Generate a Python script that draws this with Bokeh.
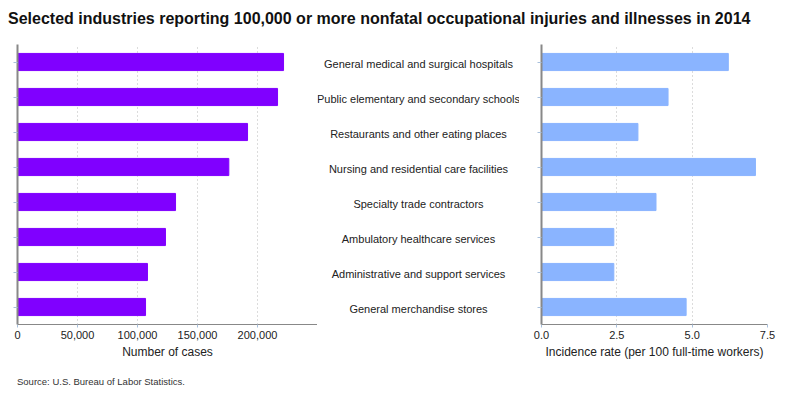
from bokeh.plotting import figure
from bokeh.layouts import column, row
from bokeh.models import (Div, FactorRange, Range1d, FixedTicker, NumeralTickFormatter,
                          ColumnDataSource)
from bokeh.core.properties import value
from bokeh.embed import file_html
from bokeh.resources import INLINE

industries = [
    "General medical and surgical hospitals",
    "Public elementary and secondary schools",
    "Restaurants and other eating places",
    "Nursing and residential care facilities",
    "Specialty trade contractors",
    "Ambulatory healthcare services",
    "Administrative and support services",
    "General merchandise stores",
]
cases = [221700, 216700, 191700, 176100, 131700, 123300, 108300, 106700]
rates = [6.2, 4.2, 3.2, 7.1, 3.8, 2.4, 2.4, 4.8]
cases_ticks = [0, 50000, 100000, 150000, 200000]
rate_ticks = [0.0, 2.5, 5.0, 7.5]

title_text = "Selected industries reporting 100,000 or more nonfatal occupational injuries and illnesses in 2014"
source_text = "Source: U.S. Bureau of Labor Statistics."

FONT = "Liberation Sans"
src = ColumnDataSource(dict(ind=industries, cases=cases, rates=rates))
yr = FactorRange(factors=list(reversed(industries)), range_padding=0)

FH = 280
TOP = 8
BOT = 45


def style(p, ticks, label):
    p.xaxis.ticker = FixedTicker(ticks=ticks)
    p.xaxis.axis_label = label
    p.xaxis.axis_label_text_font = FONT
    p.xaxis.axis_label_text_font_size = "12px"
    p.xaxis.axis_label_text_font_style = "normal"
    p.xaxis.axis_label_text_color = "#222222"
    p.xaxis.axis_label_standoff = 3
    p.xaxis.major_label_text_font = FONT
    p.xaxis.major_label_text_font_size = "11px"
    p.xaxis.major_label_text_color = "#222222"
    p.xaxis.major_label_standoff = 3
    p.xaxis.axis_line_color = "#888888"
    p.xaxis.major_tick_line_color = "#a8c0dc"
    p.xaxis.major_tick_in = 0
    p.xaxis.major_tick_out = 3
    p.xaxis.minor_tick_line_color = None
    p.yaxis.axis_line_color = "#888888"
    p.yaxis.axis_line_width = 2
    p.yaxis.major_tick_line_color = "#a8c0dc"
    p.yaxis.major_tick_in = 0
    p.yaxis.major_tick_out = 4
    p.yaxis.major_label_overrides = {f: " " for f in industries}
    p.yaxis.major_label_text_color = None
    p.yaxis.major_label_text_font_size = "2px"
    p.yaxis.major_label_standoff = 0
    p.ygrid.grid_line_color = None
    p.xgrid.ticker = FixedTicker(ticks=ticks[1:])
    p.xgrid.grid_line_color = "#b8b8b8"
    p.xgrid.grid_line_dash = "1 3"
    p.outline_line_color = None
    p.background_fill_color = "white"
    p.border_fill_color = "white"


left = figure(y_range=yr, x_range=Range1d(0, 250000), frame_width=300, frame_height=FH,
              min_border_left=17, min_border_right=0, min_border_top=TOP, min_border_bottom=BOT,
              output_backend="svg", toolbar_location=None)
left.hbar(y="ind", right="cases", height=0.49, source=src, color="#8000ff")
style(left, cases_ticks, "Number of cases")
left.xaxis.formatter = NumeralTickFormatter(format="0,0")

mid = figure(y_range=yr, x_range=Range1d(0, 1), frame_width=202, frame_height=FH,
             min_border_left=0, min_border_right=0, min_border_top=TOP, min_border_bottom=BOT,
             output_backend="svg", toolbar_location=None)
mid.axis.visible = False
mid.grid.visible = False
mid.outline_line_color = None
mid.text(x=0.5, y="ind", text="ind", source=src, text_align="center", text_baseline="middle",
         y_offset=2, text_font=value(FONT), text_font_size="11px", text_color="#222222")

right = figure(y_range=yr, x_range=Range1d(0, 7.5), frame_width=226, frame_height=FH,
               min_border_left=22, min_border_right=20, min_border_top=TOP, min_border_bottom=BOT,
               output_backend="svg", toolbar_location=None)
right.hbar(y="ind", right="rates", height=0.49, source=src, color="#8ab4ff")
style(right, rate_ticks, "Incidence rate (per 100 full-time workers)")
right.xaxis.formatter = NumeralTickFormatter(format="0.0")

title = Div(text=title_text, width=790, height=36, margin=0,
            styles={"font-family": "Liberation Sans", "font-size": "16px", "font-weight": "bold",
                    "color": "#111111", "padding-top": "8px", "padding-left": "8px",
                    "white-space": "nowrap", "box-sizing": "border-box"})
source = Div(text=source_text, width=400, height=24, margin=0,
             styles={"font-family": FONT, "font-size": "9.5px", "color": "#333333",
                     "padding-left": "17px", "padding-top": "6px", "box-sizing": "border-box"})

layout = column(title, row(left, mid, right, spacing=0), source, spacing=0)
open("out.html", "w").write(file_html(layout, INLINE))
